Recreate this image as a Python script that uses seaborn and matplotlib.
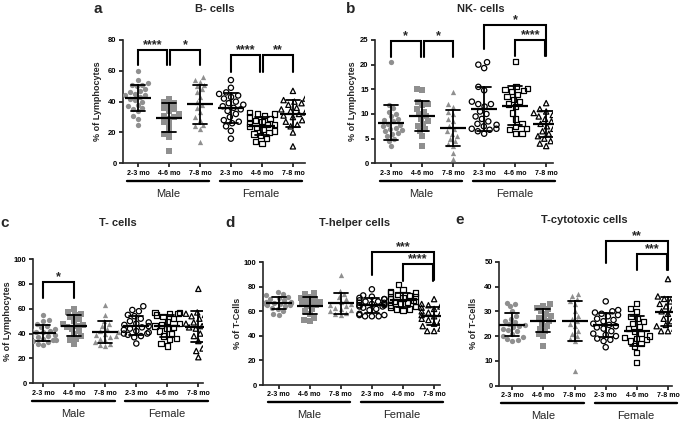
import numpy as np
import pandas as pd
import matplotlib
matplotlib.use("Agg")
import matplotlib.pyplot as plt
import seaborn as sns
from matplotlib.transforms import blended_transform_factory

# groups, same order in every panel
groups = ['M 2-3', 'M 4-6', 'M 7-8', 'F 2-3', 'F 4-6', 'F 7-8']
tick_labels = ['2-3 mo', '4-6 mo', '7-8 mo', '2-3 mo', '4-6 mo', '7-8 mo']
sexes = ['Male', 'Female']

# a: B cells (% of lymphocytes)
b_cells = [
    [60, 54, 52, 51, 51, 50, 48, 47, 46, 45, 44, 44, 43, 42, 41, 40, 38, 37, 36, 35, 34, 31, 29, 25],
    [42, 40, 39, 38, 36, 35, 34, 32, 31, 30, 29, 27, 25, 21, 19, 17, 8],
    [56, 54, 53, 51, 50, 48, 46, 43, 40, 38, 36, 33, 30, 28, 25, 24, 22, 14],
    [54, 49, 46, 45, 44, 43, 42, 40, 39, 38, 37, 36, 35, 34, 32, 30, 28, 27, 26, 24, 21, 16],
    [33, 32, 32, 31, 30, 29, 28, 27, 26, 25, 25, 24, 23, 22, 21, 20, 19, 18, 16, 14, 13],
    [47, 42, 41, 40, 39, 38, 36, 35, 34, 33, 32, 31, 30, 28, 27, 25, 24, 20, 11],
]
# b: NK cells (% of lymphocytes)
nk_cells = [
    [20.6, 11.8, 11.2, 10.5, 10, 9.5, 9, 8.8, 8.5, 8, 7.8, 7.5, 7.2, 7, 6.8, 6.5, 6.2, 6, 5.5, 5, 4.5, 3.5],
    [15, 14.8, 12.5, 12, 11.8, 11, 10.5, 10, 9.5, 9, 8.5, 8, 7.5, 7, 6.5, 5.5, 3.6],
    [14.5, 12, 11.5, 10.5, 10, 9, 8.5, 7.5, 7, 6.5, 6, 5.5, 5, 4.5, 4, 3.5, 2, 0.8],
    [20.5, 20, 19.3, 15.5, 14.8, 12.5, 12, 12, 11.5, 10.5, 10, 9.5, 9, 8.5, 8, 7.8, 7.5, 7, 7, 6.8, 6.5, 6],
    [20.7, 15.5, 15.2, 15, 14.8, 14.5, 14, 13.5, 13, 12.5, 12, 11.5, 10.2, 9, 8, 7.5, 7, 6.8, 6, 6],
    [12.2, 11, 10.8, 10.5, 10.2, 10, 9.8, 9.5, 9, 8.5, 8, 7.5, 7, 6.5, 6, 5.5, 5, 4.5, 4, 3.5],
]
# c: T cells (% of lymphocytes)
t_cells = [
    [55, 51, 50, 48, 46, 45, 44, 43, 42, 41, 41, 40, 39, 38, 38, 37, 36, 35, 35, 34, 33, 32, 31],
    [60, 57, 56, 55, 53, 52, 50, 48, 47, 46, 45, 44, 42, 40, 38, 36, 35, 32],
    [63, 55, 50, 48, 46, 44, 42, 41, 40, 39, 38, 37, 36, 35, 33, 32, 31, 30],
    [62, 59, 58, 55, 54, 52, 50, 49, 48, 47, 46, 45, 44, 43, 42, 41, 40, 40, 39, 38, 37, 32],
    [57, 57, 56, 56, 55, 54, 52, 50, 48, 47, 46, 45, 44, 42, 40, 38, 36, 35, 32, 30],
    [76, 57, 56, 55, 54, 52, 50, 49, 48, 47, 46, 45, 44, 42, 40, 38, 34, 28, 26, 21],
]
# d: T-helper cells (% of T cells)
th_cells = [
    [76, 74, 73, 72, 71, 70, 69, 68, 68, 67, 67, 66, 66, 65, 65, 64, 63, 62, 60, 58, 57],
    [75, 74, 72, 71, 70, 69, 68, 67, 66, 65, 64, 62, 60, 58, 55, 53, 52],
    [90, 77, 74, 72, 70, 68, 66, 65, 64, 63, 62, 61, 60, 59, 58, 57],
    [78, 73, 72, 71, 70, 70, 69, 68, 68, 67, 67, 66, 66, 65, 65, 64, 64, 63, 62, 61, 58, 57, 57, 56, 56, 56],
    [82, 78, 76, 75, 75, 74, 73, 72, 71, 70, 70, 69, 68, 68, 67, 66, 65, 64, 63, 62, 62, 61],
    [70, 66, 65, 64, 63, 62, 61, 60, 59, 58, 57, 56, 55, 54, 53, 52, 50, 48, 46, 44, 44],
]
# e: T-cytotoxic cells (% of T cells)
tc_cells = [
    [33.5, 33, 32, 30, 28, 27, 26, 25.5, 25, 24.5, 24, 23.5, 23, 22.5, 22, 21, 20, 19.5, 19, 18.5, 18],
    [33, 32, 31.5, 31, 30, 29, 28, 27.5, 27, 26, 25, 24, 23, 22, 21, 20, 16],
    [37, 36, 35, 34, 33, 30, 28, 27, 26, 25, 24, 22, 21, 20, 19, 18, 6],
    [34, 30.5, 30, 29.5, 29, 28.5, 28, 27, 26.5, 26, 25, 24.5, 24, 23.5, 23, 22, 21, 20.5, 20, 19, 18.5, 18, 15.5],
    [33, 31, 30, 28, 27, 26, 25, 24, 23, 22, 21, 20, 19.5, 19, 18.5, 18, 17, 16, 13.5, 9.5],
    [43, 36.5, 36, 35.5, 35, 34, 33, 32, 31, 30, 29, 28, 27, 26, 25, 24.5, 24, 23, 22, 22],
]

sns.set_style("ticks")
plt.rcParams['font.family'] = ['Liberation Sans', 'DejaVu Sans']
plt.rcParams['axes.linewidth'] = 1.2

W, H = 685, 422
fig = plt.figure(figsize=(W / 100, H / 100), dpi=100)
grey = '#8f8f8f'
markers = ['o', 's', '^']


def bracket(ax, x1, x2, top, low1, low2, text):
    ax.plot([x1, x1, x2, x2], [low1, top, top, low2], color='black', lw=1.5,
            clip_on=False, solid_joinstyle='miter', zorder=5)
    ax.annotate(text, ((x1 + x2) / 2, top), xytext=(0, 3.5), textcoords='offset points',
                ha='center', va='center', fontsize=9, fontweight='bold', annotation_clip=False)


def panel(box, values, ylim, ystep, ylabel, xlim, letter, title, head_y, ylab_x, brackets):
    l, t, r, b = box
    ax = fig.add_axes([l / W, 1 - b / H, (r - l) / W, (b - t) / H])
    df = pd.DataFrame({'group': np.repeat(groups, [len(v) for v in values]),
                       'value': np.concatenate(values)})
    for i, g in enumerate(groups):
        male = i < 3
        n_before = len(ax.collections)
        sns.swarmplot(data=df[df.group == g], x='group', y='value', order=groups, ax=ax,
                      marker=markers[i % 3], size=3.8, color=grey if male else 'black',
                      edgecolor='black', linewidth=0 if male else 0.9, warn_thresh=1)
        if not male:
            # swarmplot makes one collection per category, empty ones included
            for coll in ax.collections[n_before:]:
                coll.set_facecolor('none')
    sns.pointplot(data=df, x='group', y='value', order=groups, errorbar='sd', color='black',
                  markers='_', linestyles='none', capsize=0.45, markersize=18.5,
                  markeredgewidth=1.6, err_kws={'linewidth': 1.3}, ax=ax)
    for ln in ax.lines:
        ln.set_zorder(4)

    ax.set_xlim(*xlim)
    ax.set_ylim(*ylim)
    ax.set_yticks(np.arange(ylim[0], ylim[1] + 0.1, ystep))
    ax.set_xticks(range(len(groups)))
    ax.set_xticklabels(tick_labels, fontsize=5, fontweight='bold')
    for lab in ax.get_yticklabels():
        lab.set_fontsize(5.5)
        lab.set_fontweight('bold')
    ax.tick_params(length=3, width=1.1, pad=1.5, colors='black')
    ax.set_xlabel('')
    ax.set_ylabel(ylabel, fontsize=6.5, fontweight='bold')
    # the label anchor is its right edge once rotated
    ax.yaxis.set_label_coords((ylab_x + 4.5) / W, 1 - (t + b) / 2 / H, transform=fig.transFigure)
    sns.despine(ax=ax)

    # Male / Female underlines
    tr = blended_transform_factory(ax.transData, ax.transAxes)
    for (x1, x2), name in zip([(-0.35, 2.3), (2.65, 5.3)], sexes):
        ax.plot([x1, x2], [-0.14, -0.14], color='black', lw=1.7, transform=tr, clip_on=False)
        ax.text((x1 + x2) / 2, -0.245, name, transform=tr, ha='center', va='center', fontsize=8)

    for br in brackets:
        bracket(ax, *br)

    fig.text(letter[0] / W, 1 - head_y / H, letter[1], fontsize=11, fontweight='bold',
             ha='center', va='center')
    fig.text(title[0] / W, 1 - head_y / H, title[1], fontsize=8, fontweight='bold',
             ha='center', va='center')
    return ax


panel((123, 40, 305, 163.3), b_cells, (0, 80), 20, '% of Lymphocytes', (-0.48, 5.39),
      (98, 'a'), (215, 'B- cells'), 9, 97,
      [(0, 0.95, 73.5, 63.5, 63.5, '****'), (1.05, 2, 73.5, 63.5, 63.5, '*'),
       (3, 3.95, 70.4, 59.5, 59.5, '****'), (4.05, 5, 70.4, 59.5, 59.5, '**')])
panel((375, 40, 553, 163.3), nk_cells, (0, 25), 5, '% of Lymphocytes', (-0.52, 5.22),
      (351, 'b'), (481, 'NK- cells'), 9, 352,
      [(0, 0.95, 24.8, 21.5, 21.5, '*'), (1.05, 2, 24.8, 21.5, 21.5, '*'),
       (3, 5, 28.0, 23.2, 21.8, '*'), (4, 4.97, 25.0, 21.8, 21.8, '****')])
panel((33, 259, 203, 383.3), t_cells, (0, 100), 20, '% of Lymphocytes', (-0.33, 5.15),
      (5, 'c'), (118, 'T- cells'), 223, 8,
      [(0, 1, 81.7, 68.9, 68.9, '*')])
panel((263, 262.3, 440, 385), th_cells, (0, 100), 20, '% of T-Cells', (-0.5, 5.19),
      (230, 'd'), (355, 'T-helper cells'), 223, 238,
      [(3, 5, 108.6, 89.6, 85.6, '***'), (4, 4.97, 98.6, 84.9, 84.9, '****')])
panel((499, 261.7, 672, 385.7), tc_cells, (0, 50), 10, '% of T-Cells', (-0.43, 5.13),
      (460, 'e'), (584, 'T-cytotoxic cells'), 220, 473,
      [(3, 5, 58.5, 49.3, 46.7, '**'), (4, 4.97, 53.0, 46.7, 46.7, '***')])

fig.savefig('out.png', dpi=100)
